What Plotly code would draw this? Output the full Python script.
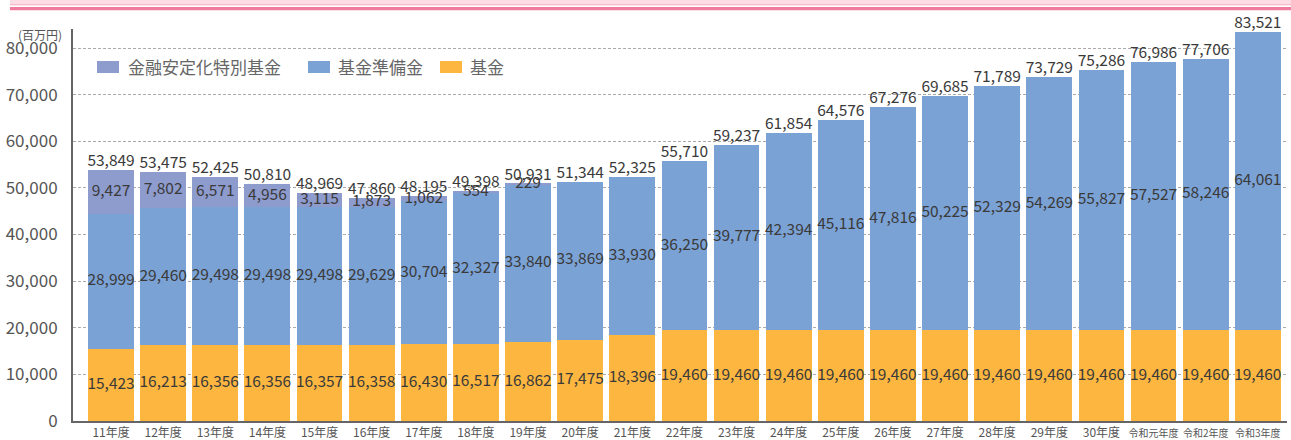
import plotly.graph_objects as go

categories = ["11年度", "12年度", "13年度", "14年度", "15年度", "16年度", "17年度", "18年度",
              "19年度", "20年度", "21年度", "22年度", "23年度", "24年度", "25年度", "26年度",
              "27年度", "28年度", "29年度", "30年度", "令和元年度", "令和2年度", "令和3年度"]
kikin = [15423, 16213, 16356, 16356, 16357, 16358, 16430, 16517, 16862, 17475, 18396,
         19460, 19460, 19460, 19460, 19460, 19460, 19460, 19460, 19460, 19460, 19460, 19460]
junbikin = [28999, 29460, 29498, 29498, 29498, 29629, 30704, 32327, 33840, 33869, 33930,
            36250, 39777, 42394, 45116, 47816, 50225, 52329, 54269, 55827, 57527, 58246, 64061]
tokubetsu = [9427, 7802, 6571, 4956, 3115, 1873, 1062, 554, 229, None, None,
             None, None, None, None, None, None, None, None, None, None, None, None]
totals = [53849, 53475, 52425, 50810, 48969, 47860, 48195, 49398, 50931, 51344, 52325,
          55710, 59237, 61854, 64576, 67276, 69685, 71789, 73729, 75286, 76986, 77706, 83521]

legend_names = ["金融安定化特別基金", "基金準備金", "基金"]
colors = {"金融安定化特別基金": "#8E9BCD", "基金準備金": "#7BA2D5", "基金": "#FDB740"}

W, H = 1291, 440
ML, MR, MT, MB = 73, 4, 29, 19
FONT = "Noto Sans CJK JP, Noto Sans, sans-serif"
LABEL_COLOR = "#3a3a3a"

def fmt(v):
    return "" if v is None else f"{v:,}"

tick_text = [f'<span style="font-size:10px">{c}</span>' if len(c) > 4 else c for c in categories]

fig = go.Figure()
fig.add_trace(go.Bar(x=categories, y=kikin, name="基金", marker_color=colors["基金"],
                     marker_line_width=0, showlegend=False))
fig.add_trace(go.Bar(x=categories, y=junbikin, name="基金準備金", marker_color=colors["基金準備金"],
                     marker_line_width=0, showlegend=False))
fig.add_trace(go.Bar(x=categories, y=[v if v is not None else 0 for v in tokubetsu],
                     name="金融安定化特別基金", marker_color=colors["金融安定化特別基金"],
                     marker_line_width=0, showlegend=False))

# segment labels at the middle of each segment
mid_k = [k / 2 for k in kikin]
mid_j = [k + j / 2 for k, j in zip(kikin, junbikin)]
tok_x = [c for c, t in zip(categories, tokubetsu) if t is not None]
tok_mid = [k + j + t / 2 for k, j, t in zip(kikin, junbikin, tokubetsu) if t is not None]
tok_txt = [fmt(t) for t in tokubetsu if t is not None]

for xs, ys, txt in [(categories, mid_k, [fmt(v) for v in kikin]),
                    (categories, mid_j, [fmt(v) for v in junbikin]),
                    (tok_x, tok_mid, tok_txt)]:
    fig.add_trace(go.Scatter(x=xs, y=ys, text=txt, mode="text", textposition="middle center",
                             textfont=dict(family=FONT, size=15.5, color=LABEL_COLOR),
                             showlegend=False, hoverinfo="skip", cliponaxis=False))

fig.add_trace(go.Scatter(x=categories, y=totals, text=[fmt(v) for v in totals], mode="text",
                         textposition="top center",
                         textfont=dict(family=FONT, size=15.5, color=LABEL_COLOR),
                         showlegend=False, hoverinfo="skip", cliponaxis=False))

plot_w = W - ML - MR
plot_h = H - MT - MB
def px_x(p):
    return (p - ML) / plot_w
def px_y(p):
    return 1 + (MT - p) / plot_h

stripe_x0, stripe_x1 = px_x(10), px_x(W)
shapes = [
    dict(type="rect", xref="paper", yref="paper", x0=stripe_x0, x1=stripe_x1,
         y0=px_y(4.3), y1=px_y(0), fillcolor="#FCDDE6", line_width=0, layer="above"),
    dict(type="rect", xref="paper", yref="paper", x0=stripe_x0, x1=stripe_x1,
         y0=px_y(5.3), y1=px_y(4.3), fillcolor="#F3A6BC", line_width=0, layer="above"),
    dict(type="rect", xref="paper", yref="paper", x0=stripe_x0, x1=stripe_x1,
         y0=px_y(10.3), y1=px_y(7), fillcolor="#EF7C9E", line_width=0, layer="above"),
]

annotations = [dict(text="(百万円)", xref="paper", yref="paper", x=0, y=1, xanchor="right",
                    yanchor="top", xshift=-9, yshift=5, showarrow=False,
                    font=dict(size=12, color="#555"))]

# custom legend (wide swatches as in the reference)
legend_px = [(97, 126), (308, 336), (440, 468)]
for name, (sx, tx) in zip(legend_names, legend_px):
    shapes.append(dict(type="rect", xref="paper", yref="paper", x0=px_x(sx), x1=px_x(sx + 22),
                       y0=px_y(73), y1=px_y(61), fillcolor=colors[name], line_width=0))
    annotations.append(dict(text=name, xref="paper", yref="paper", x=px_x(tx), y=px_y(67),
                            xanchor="left", yanchor="middle", showarrow=False,
                            font=dict(size=17, color="#666")))

fig.update_layout(
    width=W, height=H,
    margin=dict(l=ML, r=MR, t=MT, b=MB, pad=0, autoexpand=False),
    barmode="stack", bargap=0.12,
    plot_bgcolor="white", paper_bgcolor="white",
    font=dict(family=FONT, color="#555"),
    shapes=shapes,
    annotations=annotations,
    showlegend=False,
    xaxis=dict(range=[-0.73, 22.56], tickmode="array", tickvals=categories, ticktext=tick_text,
               tickfont=dict(size=12, color="#555"), showline=True, linecolor="#666", linewidth=2,
               showgrid=False, ticks="", ticklabelstandoff=0, automargin=False),
    yaxis=dict(range=[0, 84075], tickvals=[0, 10000, 20000, 30000, 40000, 50000, 60000, 70000, 80000],
               tickformat=",d", tickfont=dict(size=17, color="#555"),
               showline=True, linecolor="#666", linewidth=2,
               showgrid=True, gridcolor="#aaaaaa", gridwidth=1, griddash="3px,2px",
               zeroline=False, ticks="", ticklabelstandoff=10, automargin=False),
)

fig.write_html("out.html", config={"displayModeBar": False},
               post_script="document.body.style.margin='0';document.body.style.overflow='hidden';")
